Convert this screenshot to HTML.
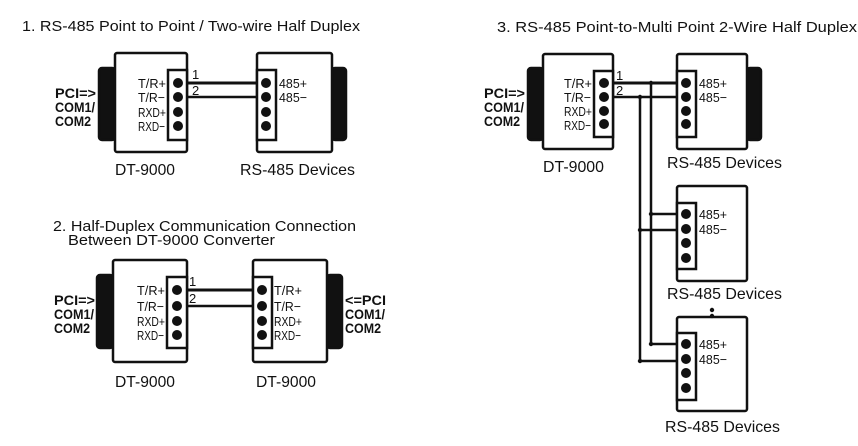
<!DOCTYPE html>
<html><head><meta charset="utf-8"><style>
html,body{margin:0;padding:0;background:#fff;}
svg{display:block;}
.t{font-family:"Liberation Sans",Arial,sans-serif;font-size:14.5px;fill:#111;}
.L{font-family:"Liberation Sans",Arial,sans-serif;font-size:16px;fill:#111;}
.s{font-family:"Liberation Sans",Arial,sans-serif;font-size:13px;fill:#111;}
.b{font-family:"Liberation Sans",Arial,sans-serif;font-size:14px;font-weight:bold;fill:#111;}
</style></head><body>
<svg width="858" height="446" viewBox="0 0 858 446" xmlns="http://www.w3.org/2000/svg">
<rect width="858" height="446" fill="#fff"/>
<g stroke="#111" fill="none" stroke-width="2.5">
<rect x="99" y="68" width="16" height="72" rx="3" fill="#111"/>
<rect x="115" y="53" width="72" height="99" rx="2" fill="#fff"/>
<rect x="168" y="70" width="19" height="70" fill="#fff"/>
<rect x="332" y="68" width="14" height="72" rx="3" fill="#111"/>
<rect x="257" y="53" width="75" height="99" rx="2" fill="#fff"/>
<rect x="257" y="70" width="19" height="70" fill="#fff"/>
<line x1="187" y1="83" x2="257" y2="83" stroke-width="3"/>
<line x1="187" y1="97" x2="257" y2="97"/>
<rect x="97" y="275" width="16" height="73" rx="3" fill="#111"/>
<rect x="113" y="260" width="74" height="102" rx="2" fill="#fff"/>
<rect x="167" y="277" width="20" height="71" fill="#fff"/>
<rect x="327" y="275" width="15" height="73" rx="3" fill="#111"/>
<rect x="253" y="260" width="74" height="102" rx="2" fill="#fff"/>
<rect x="253" y="277" width="19" height="71" fill="#fff"/>
<line x1="187" y1="290" x2="253" y2="290" stroke-width="3"/>
<line x1="187" y1="306" x2="253" y2="306"/>
<rect x="528" y="68" width="15" height="72" rx="3" fill="#111"/>
<rect x="543" y="54" width="70" height="95" rx="2" fill="#fff"/>
<rect x="594" y="71" width="19" height="66" fill="#fff"/>
<rect x="747" y="68" width="14" height="72" rx="3" fill="#111"/>
<rect x="677" y="54" width="70" height="95" rx="2" fill="#fff"/>
<rect x="677" y="71" width="19" height="66" fill="#fff"/>
<rect x="677" y="186" width="70" height="95" rx="2" fill="#fff"/>
<rect x="677" y="203" width="19" height="66" fill="#fff"/>
<rect x="677" y="317" width="70" height="94" rx="2" fill="#fff"/>
<rect x="677" y="333" width="19" height="67" fill="#fff"/>
<line x1="613" y1="83" x2="677" y2="83" stroke-width="3"/>
<line x1="613" y1="97" x2="677" y2="97"/>
<line x1="651" y1="83" x2="651" y2="344"/>
<line x1="640" y1="97" x2="640" y2="361"/>
<line x1="651" y1="214" x2="677" y2="214"/>
<line x1="640" y1="230" x2="677" y2="230"/>
<line x1="651" y1="344" x2="677" y2="344"/>
<line x1="640" y1="361" x2="677" y2="361"/>
</g>
<g fill="#111">
<circle cx="178" cy="83" r="5"/><circle cx="178" cy="97" r="5"/><circle cx="178" cy="112" r="5"/><circle cx="178" cy="126" r="5"/>
<circle cx="266" cy="83" r="5"/><circle cx="266" cy="97" r="5"/><circle cx="266" cy="112" r="5"/><circle cx="266" cy="126" r="5"/>
<circle cx="177" cy="290" r="5"/><circle cx="177" cy="306" r="5"/><circle cx="177" cy="321" r="5"/><circle cx="177" cy="335" r="5"/>
<circle cx="262" cy="290" r="5"/><circle cx="262" cy="306" r="5"/><circle cx="262" cy="321" r="5"/><circle cx="262" cy="335" r="5"/>
<circle cx="604" cy="83" r="5"/><circle cx="604" cy="97" r="5"/><circle cx="604" cy="111" r="5"/><circle cx="604" cy="124" r="5"/>
<circle cx="686" cy="83" r="5"/><circle cx="686" cy="97" r="5"/><circle cx="686" cy="111" r="5"/><circle cx="686" cy="124" r="5"/>
<circle cx="686" cy="214" r="5"/><circle cx="686" cy="229" r="5"/><circle cx="686" cy="243" r="5"/><circle cx="686" cy="258" r="5"/>
<circle cx="686" cy="344" r="5"/><circle cx="686" cy="359" r="5"/><circle cx="686" cy="373" r="5"/><circle cx="686" cy="388" r="5"/>
<circle cx="651" cy="83" r="2.2"/><circle cx="640" cy="97" r="2.2"/>
<circle cx="651" cy="214" r="2.2"/><circle cx="640" cy="230" r="2.2"/>
<circle cx="651" cy="344" r="2.2"/><circle cx="640" cy="361" r="2.2"/>
<circle cx="712" cy="310" r="2.2"/><circle cx="712" cy="316" r="2.2"/>
</g>
<text class="t" x="22" y="31" textLength="338" lengthAdjust="spacingAndGlyphs">1. RS-485 Point to Point / Two-wire Half Duplex</text>
<text class="t" x="497" y="32" textLength="360" lengthAdjust="spacingAndGlyphs">3. RS-485 Point-to-Multi Point 2-Wire Half Duplex</text>
<text class="t" x="53" y="231" textLength="303" lengthAdjust="spacingAndGlyphs">2. Half-Duplex Communication Connection</text>
<text class="t" x="68" y="245" textLength="207" lengthAdjust="spacingAndGlyphs">Between DT-9000 Converter</text>
<text class="L" x="115" y="175" textLength="60" lengthAdjust="spacingAndGlyphs">DT-9000</text>
<text class="L" x="240" y="175" textLength="115" lengthAdjust="spacingAndGlyphs">RS-485 Devices</text>
<text class="L" x="115" y="387" textLength="60" lengthAdjust="spacingAndGlyphs">DT-9000</text>
<text class="L" x="256" y="387" textLength="60" lengthAdjust="spacingAndGlyphs">DT-9000</text>
<text class="L" x="543" y="172" textLength="61" lengthAdjust="spacingAndGlyphs">DT-9000</text>
<text class="L" x="667" y="168" textLength="115" lengthAdjust="spacingAndGlyphs">RS-485 Devices</text>
<text class="L" x="667" y="299" textLength="115" lengthAdjust="spacingAndGlyphs">RS-485 Devices</text>
<text class="L" x="665" y="432" textLength="115" lengthAdjust="spacingAndGlyphs">RS-485 Devices</text>
<g class="b">
<text x="55" y="98" textLength="41" lengthAdjust="spacingAndGlyphs">PCI=&gt;</text>
<text x="55" y="112" textLength="40" lengthAdjust="spacingAndGlyphs">COM1/</text>
<text x="55" y="126" textLength="36" lengthAdjust="spacingAndGlyphs">COM2</text>
<text x="54" y="305" textLength="41" lengthAdjust="spacingAndGlyphs">PCI=&gt;</text>
<text x="54" y="319" textLength="40" lengthAdjust="spacingAndGlyphs">COM1/</text>
<text x="54" y="333" textLength="36" lengthAdjust="spacingAndGlyphs">COM2</text>
<text x="345" y="305" textLength="41" lengthAdjust="spacingAndGlyphs">&lt;=PCI</text>
<text x="345" y="319" textLength="40" lengthAdjust="spacingAndGlyphs">COM1/</text>
<text x="345" y="333" textLength="36" lengthAdjust="spacingAndGlyphs">COM2</text>
<text x="484" y="98" textLength="41" lengthAdjust="spacingAndGlyphs">PCI=&gt;</text>
<text x="484" y="112" textLength="40" lengthAdjust="spacingAndGlyphs">COM1/</text>
<text x="484" y="126" textLength="36" lengthAdjust="spacingAndGlyphs">COM2</text>
</g>
<g class="s">
<text x="138" y="88" textLength="28" lengthAdjust="spacingAndGlyphs">T/R+</text>
<text x="138" y="102" textLength="27" lengthAdjust="spacingAndGlyphs">T/R−</text>
<text x="138" y="117" textLength="28" lengthAdjust="spacingAndGlyphs">RXD+</text>
<text x="138" y="131" textLength="27" lengthAdjust="spacingAndGlyphs">RXD−</text>
<text x="279" y="88" textLength="28" lengthAdjust="spacingAndGlyphs">485+</text>
<text x="279" y="102" textLength="28" lengthAdjust="spacingAndGlyphs">485−</text>
<text x="192" y="79">1</text>
<text x="192" y="95">2</text>
<text x="137" y="295" textLength="28" lengthAdjust="spacingAndGlyphs">T/R+</text>
<text x="137" y="311" textLength="27" lengthAdjust="spacingAndGlyphs">T/R−</text>
<text x="137" y="326" textLength="28" lengthAdjust="spacingAndGlyphs">RXD+</text>
<text x="137" y="340" textLength="27" lengthAdjust="spacingAndGlyphs">RXD−</text>
<text x="189" y="286">1</text>
<text x="189" y="303">2</text>
<text x="274" y="295" textLength="28" lengthAdjust="spacingAndGlyphs">T/R+</text>
<text x="274" y="311" textLength="27" lengthAdjust="spacingAndGlyphs">T/R−</text>
<text x="274" y="326" textLength="28" lengthAdjust="spacingAndGlyphs">RXD+</text>
<text x="274" y="340" textLength="27" lengthAdjust="spacingAndGlyphs">RXD−</text>
<text x="564" y="88" textLength="28" lengthAdjust="spacingAndGlyphs">T/R+</text>
<text x="564" y="102" textLength="27" lengthAdjust="spacingAndGlyphs">T/R−</text>
<text x="564" y="116" textLength="28" lengthAdjust="spacingAndGlyphs">RXD+</text>
<text x="564" y="130" textLength="27" lengthAdjust="spacingAndGlyphs">RXD−</text>
<text x="616" y="80">1</text>
<text x="616" y="95">2</text>
<text x="699" y="88" textLength="28" lengthAdjust="spacingAndGlyphs">485+</text>
<text x="699" y="102" textLength="28" lengthAdjust="spacingAndGlyphs">485−</text>
<text x="699" y="219" textLength="28" lengthAdjust="spacingAndGlyphs">485+</text>
<text x="699" y="234" textLength="28" lengthAdjust="spacingAndGlyphs">485−</text>
<text x="699" y="349" textLength="28" lengthAdjust="spacingAndGlyphs">485+</text>
<text x="699" y="364" textLength="28" lengthAdjust="spacingAndGlyphs">485−</text>
</g>
</svg>
</body></html>
